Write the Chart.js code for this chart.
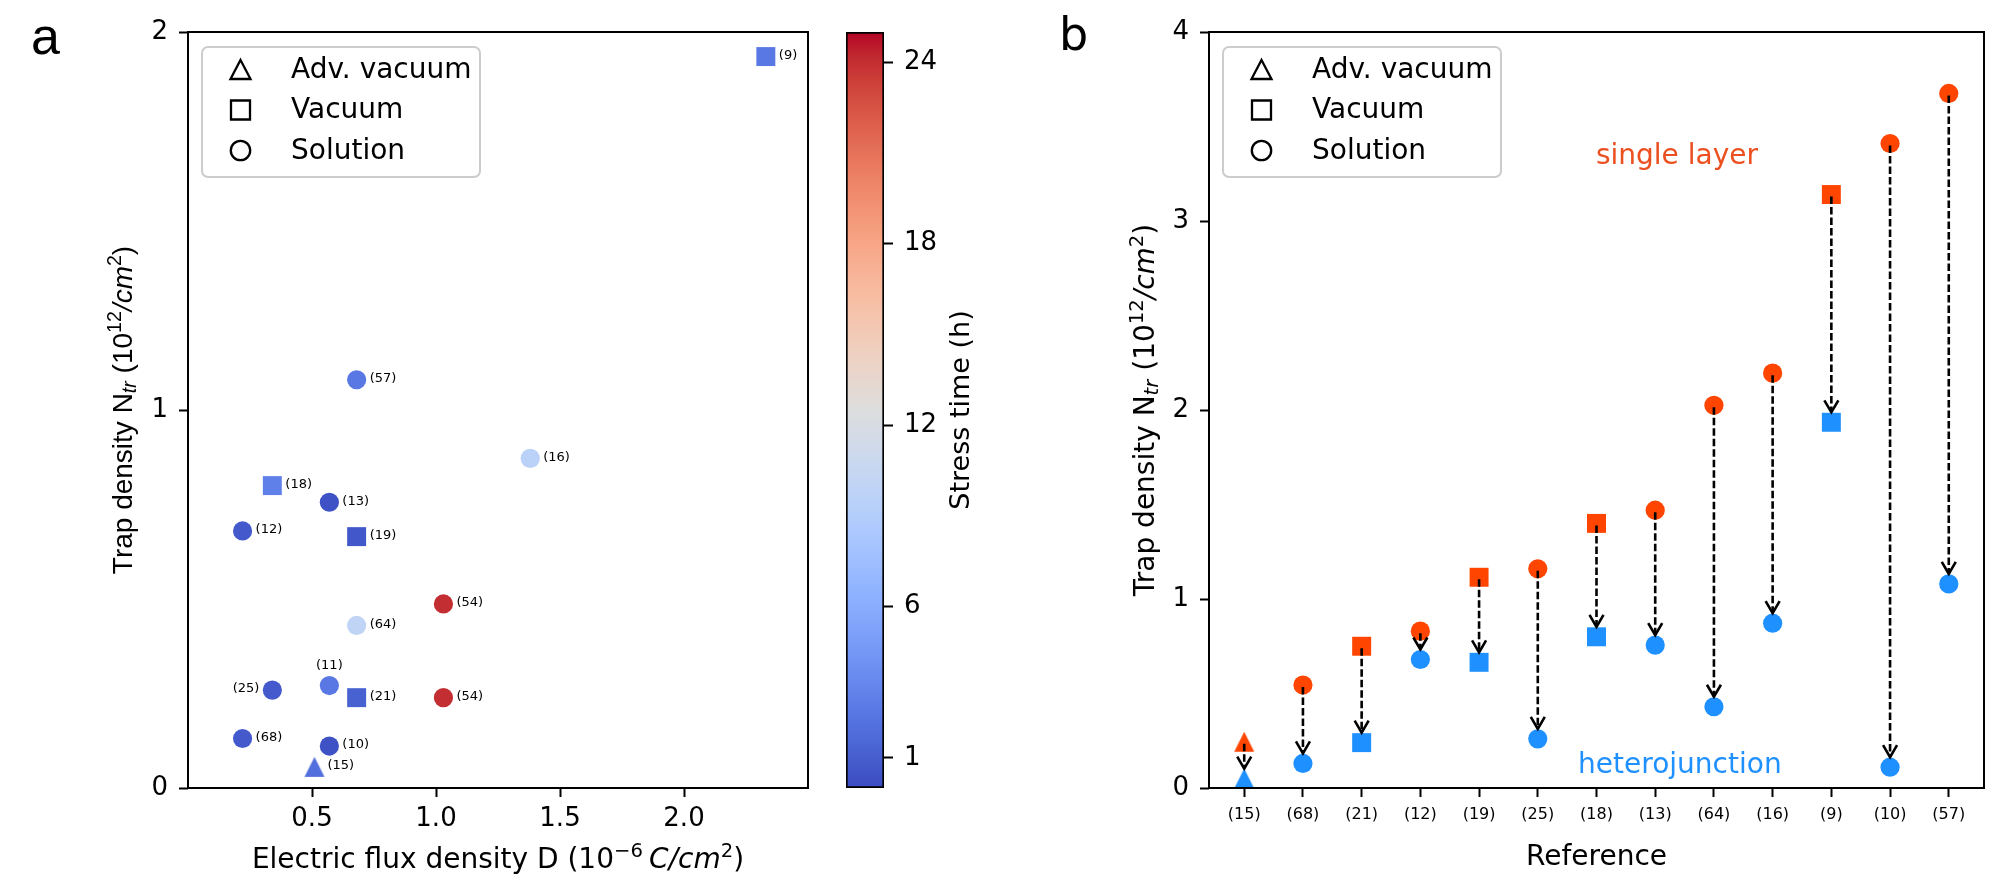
<!DOCTYPE html>
<html>
<head>
<meta charset="utf-8">
<script src="https://cdn.jsdelivr.net/npm/chart.js@4.4.0/dist/chart.umd.min.js"></script>
<style>
  html, body { margin: 0; padding: 0; background: #fff; }
  body { width: 2002px; height: 880px; position: relative; overflow: hidden; }
  canvas { position: absolute; top: 0; }
  #chartA { left: 0; }
  #chartC { left: 840px; }
  #chartB { left: 1000px; }
</style>
</head>
<body>
<canvas id="chartA" width="840" height="880"></canvas>
<canvas id="chartC" width="160" height="880"></canvas>
<canvas id="chartB" width="1002" height="880"></canvas>
<script>
// panel a: trap density against electric flux density, coloured by stress time
const refA       = ['(57)', '(16)', '(18)', '(13)', '(12)', '(19)', '(54)', '(64)', '(11)', '(25)', '(21)', '(54)', '(68)', '(10)', '(15)', '(9)']
const methodA    = ['sol', 'sol', 'vac', 'sol', 'sol', 'vac', 'sol', 'sol', 'sol', 'sol', 'vac', 'sol', 'sol', 'sol', 'adv', 'vac']
const fluxD      = [0.68, 1.38, 0.34, 0.57, 0.22, 0.68, 1.03, 0.68, 0.57, 0.34, 0.68, 1.03, 0.22, 0.57, 0.51, 2.33]
const trapA      = [1.08, 0.872, 0.80, 0.756, 0.68, 0.665, 0.487, 0.43, 0.271, 0.259, 0.239, 0.239, 0.131, 0.111, 0.056, 1.935]
const stressTime = [2.5, 9.5, 3, 0.3, 0.8, 0.6, 24, 10, 2.5, 0.8, 1.2, 24, 0.8, 0.3, 2, 2.5]
const labelSide  = ['r', 'r', 'r', 'r', 'r', 'r', 'r', 'r', 't', 'l', 'r', 'r', 'r', 'r', 'r', 'r']
const xTicksA    = [0.5, 1.0, 1.5, 2.0]
const yTicksA    = [0, 1, 2]

// colour bar
const cbarRange = [0, 25]
const cbarTicks = [1, 6, 12, 18, 24]

// panel b: single layer vs heterojunction per reference
const refB        = ['(15)', '(68)', '(21)', '(12)', '(19)', '(25)', '(18)', '(13)', '(64)', '(16)', '(9)', '(10)', '(57)']
const methodB     = ['adv', 'sol', 'vac', 'sol', 'vac', 'sol', 'vac', 'sol', 'sol', 'sol', 'vac', 'sol', 'sol']
const singleLayer = [0.245, 0.545, 0.75, 0.83, 1.115, 1.16, 1.40, 1.47, 2.025, 2.195, 3.14, 3.41, 3.675]
const heteroJunc  = [0.05, 0.13, 0.24, 0.68, 0.665, 0.26, 0.80, 0.756, 0.43, 0.872, 1.935, 0.11, 1.08]
const yTicksB     = [0, 1, 2, 3, 4]

const legendLabels = ['Adv. vacuum', 'Vacuum', 'Solution']
const legendShapes = ['adv', 'vac', 'sol']

const RED = '#ff4500'
const BLUE = '#1e90ff'
const FONT = "'DejaVu Sans', sans-serif"
const ARIAL = "'Liberation Sans', Arial, sans-serif"

// coolwarm (Moreland) colour map stops
const COOLWARM = [
  [59, 76, 192], [68, 90, 204], [77, 104, 215], [87, 117, 225], [98, 130, 234], [108, 142, 241],
  [119, 154, 247], [130, 165, 251], [141, 176, 254], [152, 185, 255], [163, 194, 255], [174, 201, 253],
  [184, 208, 249], [194, 213, 244], [204, 217, 238], [213, 219, 230], [221, 221, 221], [229, 216, 209],
  [236, 211, 197], [241, 204, 185], [245, 196, 173], [247, 187, 160], [247, 177, 148], [247, 166, 135],
  [244, 154, 123], [241, 141, 111], [236, 127, 99], [229, 112, 88], [222, 96, 77], [213, 80, 66],
  [203, 62, 56], [192, 40, 47], [180, 4, 38],
]

function coolwarm(t) {
  const f = Math.min(1, Math.max(0, (t - cbarRange[0]) / (cbarRange[1] - cbarRange[0]))) * (COOLWARM.length - 1)
  const i = Math.min(Math.floor(f), COOLWARM.length - 2)
  const u = f - i
  const c = COOLWARM[i].map((v, k) => Math.round(v + (COOLWARM[i + 1][k] - v) * u))
  return `rgb(${c.join(',')})`
}

// matplotlib-like '^' marker (centred on its box)
function triangleMarker(color, size) {
  const c = document.createElement('canvas')
  const w = Math.ceil(size) + 2
  c.width = w
  c.height = w
  const g = c.getContext('2d')
  const h = size / 2
  const m = w / 2
  g.fillStyle = color
  g.beginPath()
  g.moveTo(m, m - h)
  g.lineTo(m + h, m + h)
  g.lineTo(m - h, m + h)
  g.closePath()
  g.fill()
  return c
}

const pointStyleFor = (m, color) => (m === 'adv' ? triangleMarker(color, 20) : m === 'vac' ? 'rect' : 'circle')
const radiusFor = (m) => (m === 'vac' ? 13.4 : 9.6)

// text with sub/superscripts and italics, centred on (x, y)
function drawRich(ctx, parts, x, y, rotation, size, family) {
  const fontFor = (k) => `${k.includes('it') ? 'italic ' : ''}${k.includes('sub') || k.includes('sup') ? size * 0.7 : size}px ${family}`
  ctx.save()
  ctx.translate(x, y)
  ctx.rotate(rotation)
  ctx.fillStyle = '#000'
  ctx.textBaseline = 'alphabetic'
  ctx.textAlign = 'left'
  let total = 0
  for (const [t, k] of parts) {
    ctx.font = fontFor(k)
    total += ctx.measureText(t).width
  }
  let cx = -total / 2
  const base = size * 0.25
  for (const [t, k] of parts) {
    ctx.font = fontFor(k)
    const dy = k.includes('sup') ? -size * 0.38 : k.includes('sub') ? size * 0.16 : 0
    ctx.fillText(t, cx, base + dy)
    cx += ctx.measureText(t).width
  }
  ctx.restore()
}

function drawLegend(chart) {
  const { ctx, chartArea: a } = chart
  const x0 = a.left + 14
  const y0 = a.top + 15
  const w = 278
  const h = 130
  ctx.save()
  ctx.beginPath()
  ctx.roundRect(x0, y0, w, h, 6)
  ctx.fillStyle = 'rgba(255,255,255,0.8)'
  ctx.fill()
  ctx.strokeStyle = '#cccccc'
  ctx.lineWidth = 2
  ctx.stroke()
  ctx.strokeStyle = '#000'
  ctx.lineWidth = 2.3
  ctx.fillStyle = '#000'
  ctx.font = `28px ${FONT}`
  ctx.textBaseline = 'middle'
  ctx.textAlign = 'left'
  legendLabels.forEach((lab, i) => {
    const cy = y0 + 22.5 + i * 40.5
    const mx = x0 + 38.5
    ctx.beginPath()
    if (legendShapes[i] === 'adv') {
      ctx.moveTo(mx, cy - 9.5)
      ctx.lineTo(mx + 10, cy + 9.5)
      ctx.lineTo(mx - 10, cy + 9.5)
      ctx.closePath()
    } else if (legendShapes[i] === 'vac') {
      ctx.rect(mx - 9.5, cy - 9.5, 19, 19)
    } else {
      ctx.arc(mx, cy, 9.7, 0, Math.PI * 2)
    }
    ctx.stroke()
    ctx.fillText(lab, x0 + 89, cy + 1)
  })
  ctx.restore()
}

function drawFrame(chart) {
  const { ctx, chartArea: a } = chart
  ctx.save()
  ctx.strokeStyle = '#000'
  ctx.lineWidth = 2
  ctx.strokeRect(a.left, a.top, a.right - a.left, a.bottom - a.top)
  ctx.restore()
}

const tickGrid = { drawOnChartArea: false, drawTicks: true, tickLength: 9, tickWidth: 2, tickColor: '#000' }

function linearAxis(min, max, ticks, opts) {
  return {
    type: 'linear',
    min,
    max,
    afterBuildTicks: (s) => { s.ticks = ticks.map((value) => ({ value })) },
    grid: tickGrid,
    border: { display: false },
    ticks: { color: '#000', autoSkip: false, maxRotation: 0, font: { family: FONT, size: 26 }, ...opts.ticks },
    afterFit: opts.afterFit,
    position: opts.position,
  }
}

Chart.defaults.font.family = FONT
Chart.defaults.color = '#000'

const baseOptions = {
  responsive: false,
  devicePixelRatio: 1,
  animation: false,
  events: [],
  plugins: { legend: { display: false }, tooltip: { enabled: false } },
}

// ---------- panel a ----------
const colorsA = stressTime.map(coolwarm)

new Chart(document.getElementById('chartA'), {
  type: 'scatter',
  data: {
    datasets: [{
      data: fluxD.map((x, i) => ({ x, y: trapA[i] })),
      pointStyle: methodA.map((m, i) => pointStyleFor(m, colorsA[i])),
      pointRadius: methodA.map(radiusFor),
      pointBackgroundColor: colorsA,
      pointBorderWidth: 0,
      clip: false,
    }],
  },
  options: {
    ...baseOptions,
    layout: { padding: { left: 0, top: 32, right: 32, bottom: 0 } },
    scales: {
      x: linearAxis(0, 2.5, xTicksA, {
        ticks: { padding: 7, callback: (v) => v.toFixed(1) },
        afterFit: (s) => { s.height = 92 },
      }),
      y: linearAxis(0, 2, yTicksA, {
        ticks: { padding: 11, callback: (v) => String(v) },
        afterFit: (s) => { s.width = 188 },
      }),
    },
  },
  plugins: [{
    id: 'panelA',
    afterDatasetsDraw(chart) {
      const { ctx, scales: { x, y } } = chart
      ctx.save()
      ctx.font = `13px ${FONT}`
      ctx.fillStyle = '#000'
      ctx.textBaseline = 'middle'
      refA.forEach((lab, i) => {
        const px = x.getPixelForValue(fluxD[i])
        const py = y.getPixelForValue(trapA[i])
        if (labelSide[i] === 't') {
          ctx.textAlign = 'center'
          ctx.fillText(lab, px, py - 20)
        } else if (labelSide[i] === 'l') {
          ctx.textAlign = 'right'
          ctx.fillText(lab, px - 13, py - 1)
        } else {
          ctx.textAlign = 'left'
          ctx.fillText(lab, px + 13, py - 1)
        }
      })
      ctx.restore()
    },
    afterDraw(chart) {
      const { ctx, chartArea: a } = chart
      drawFrame(chart)
      drawLegend(chart)
      drawRich(ctx, [['Trap density N', ''], ['tr', 'subit'], [' (10', ''], ['12', 'sup'], ['/cm', 'it'], ['2', 'sup'], [')', '']],
        125, (a.top + a.bottom) / 2, -Math.PI / 2, 28, ARIAL)
      drawRich(ctx, [['Electric flux density D (10', ''], ['\u22126', 'sup'], [' ', 'sup'], ['C/cm', 'it'], ['2', 'sup'], [')', '']],
        (a.left + a.right) / 2, 861, 0, 28, FONT)
      ctx.save()
      ctx.font = `52px ${ARIAL}`
      ctx.fillStyle = '#000'
      ctx.textBaseline = 'alphabetic'
      ctx.fillText('a', 31, 54)
      ctx.restore()
    },
  }],
})

// ---------- colour bar ----------
new Chart(document.getElementById('chartC'), {
  type: 'bar',
  data: {
    labels: [''],
    datasets: [{
      data: [[cbarRange[0], cbarRange[1]]],
      backgroundColor: (c) => {
        const area = c.chart.chartArea
        if (!area) return null
        const g = c.chart.ctx.createLinearGradient(0, area.bottom, 0, area.top)
        COOLWARM.forEach((col, i) => g.addColorStop(i / (COOLWARM.length - 1), `rgb(${col.join(',')})`))
        return g
      },
      borderColor: '#000',
      borderWidth: 2,
      borderSkipped: false,
      barPercentage: 1,
      categoryPercentage: 1,
    }],
  },
  options: {
    ...baseOptions,
    layout: { padding: { left: 6, top: 32, right: 0, bottom: 92 } },
    scales: {
      x: { display: false },
      y: linearAxis(cbarRange[0], cbarRange[1], cbarTicks, {
        position: 'right',
        ticks: { padding: 11, callback: (v) => String(v) },
        afterFit: (s) => { s.width = 116 },
      }),
    },
  },
  plugins: [{
    id: 'cbarTitle',
    afterDraw(chart) {
      const a = chart.chartArea
      drawRich(chart.ctx, [['Stress time (h)', '']], 122, (a.top + a.bottom) / 2, -Math.PI / 2, 27, FONT)
    },
  }],
})

// ---------- panel b ----------
const shapeB = (color) => methodB.map((m) => pointStyleFor(m, color))

new Chart(document.getElementById('chartB'), {
  type: 'scatter',
  data: {
    datasets: [
      {
        label: 'heterojunction',
        data: heteroJunc.map((y, i) => ({ x: i, y })),
        pointStyle: shapeB(BLUE),
        pointRadius: methodB.map(radiusFor),
        pointBackgroundColor: BLUE,
        pointBorderWidth: 0,
        clip: false,
      },
      {
        label: 'single layer',
        data: singleLayer.map((y, i) => ({ x: i, y })),
        pointStyle: shapeB(RED),
        pointRadius: methodB.map(radiusFor),
        pointBackgroundColor: RED,
        pointBorderWidth: 0,
        clip: false,
      },
    ],
  },
  options: {
    ...baseOptions,
    layout: { padding: { left: 0, top: 32, right: 18, bottom: 0 } },
    scales: {
      x: linearAxis(-0.6, refB.length - 1 + 0.6, refB.map((_, i) => i), {
        ticks: { padding: 8, font: { family: FONT, size: 16 }, callback: (v) => refB[v] ?? '' },
        afterFit: (s) => { s.height = 92 },
      }),
      y: linearAxis(0, 4, yTicksB, {
        ticks: { padding: 11, callback: (v) => String(v) },
        afterFit: (s) => { s.width = 209 },
      }),
    },
  },
  plugins: [{
    id: 'panelB',
    afterDatasetsDraw(chart) {
      const { ctx, scales: { x, y } } = chart
      singleLayer.forEach((v, i) => {
        const px = x.getPixelForValue(i)
        const y1 = y.getPixelForValue(v) + 2
        const y2 = y.getPixelForValue(heteroJunc[i]) - 10
        ctx.save()
        ctx.strokeStyle = '#000'
        ctx.lineWidth = 2.6
        ctx.setLineDash([7.5, 3])
        ctx.beginPath()
        ctx.moveTo(px, y1)
        ctx.lineTo(px, y2)
        ctx.stroke()
        ctx.setLineDash([])
        ctx.lineWidth = 2.6
        ctx.beginPath()
        ctx.moveTo(px - 7, y2 - 12)
        ctx.lineTo(px, y2)
        ctx.lineTo(px + 7, y2 - 12)
        ctx.stroke()
        ctx.restore()
      })
    },
    afterDraw(chart) {
      const { ctx, chartArea: a, scales: { x, y } } = chart
      drawFrame(chart)
      drawLegend(chart)
      ctx.save()
      ctx.font = `28px ${FONT}`
      ctx.textAlign = 'center'
      ctx.textBaseline = 'middle'
      ctx.fillStyle = '#ec5020'
      ctx.fillText('single layer', x.getPixelForValue(7.37), y.getPixelForValue(3.34))
      ctx.fillStyle = BLUE
      ctx.fillText('heterojunction', x.getPixelForValue(7.42), y.getPixelForValue(0.12))
      ctx.font = `46px ${FONT}`
      ctx.fillStyle = '#000'
      ctx.textAlign = 'left'
      ctx.textBaseline = 'alphabetic'
      ctx.fillText('b', 59, 50)
      ctx.restore()
      drawRich(ctx, [['Trap density N', ''], ['tr', 'subit'], [' (10', ''], ['12', 'sup'], ['/cm', 'it'], ['2', 'sup'], [')', '']],
        147, (a.top + a.bottom) / 2, -Math.PI / 2, 28, FONT)
      drawRich(ctx, [['Reference', '']], (a.left + a.right) / 2, 858, 0, 28, FONT)
    },
  }],
})
</script>
</body>
</html>
